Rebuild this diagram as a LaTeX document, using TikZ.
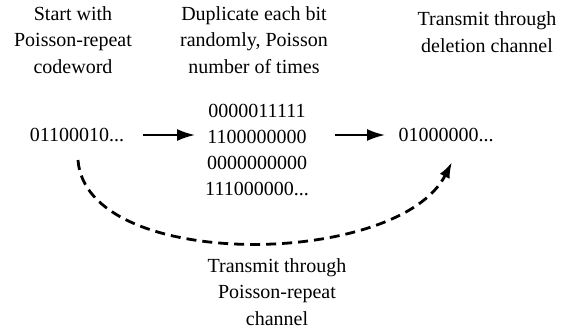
\documentclass[tikz,border=0pt]{standalone}
\usepackage{fontspec}
\setmainfont{Liberation Serif}
\usetikzlibrary{arrows.meta}
\begin{document}
\begin{tikzpicture}[
    x=0.5pt, y=-0.5pt,
    every node/.style={font=\fontsize{10pt}{13.2pt}\selectfont, inner sep=0pt},
    caption/.style={align=center},
    word/.style={anchor=center},
    step arrow/.style={draw, line width=1pt, -{Latex[length=9pt,width=6pt]}},
    channel arrow/.style={draw, line width=1.4pt, dashed, dash pattern=on 5pt off 3pt,
        -{Latex[length=8pt,width=5.5pt]}}
]
\useasboundingbox (0,0) rectangle (561,334);
% captions on top
\node[caption] (start) at (73,40) {Start with\\Poisson-repeat\\codeword};
\node[caption] (dup) at (254,40) {Duplicate each bit\\randomly, Poisson\\number of times};
\node[caption] (del) at (487,32) {Transmit through\\deletion channel};
% codewords
\node[word] (cw) at (77,135) {01100010...};
\node[word, align=center, font=\fontsize{10pt}{12.9pt}\selectfont] (bits) at (257,150)
    {0000011111\\1100000000\\0000000000\\111000000...};
\node[word] (out) at (446,135) {01000000...};
% steps
\coordinate (a1) at (143,135);
\coordinate (b1) at (195,135);
\coordinate (a2) at (335,135);
\coordinate (b2) at (385,135);
\draw[step arrow] (a1) -- (b1);
\draw[step arrow] (a2) -- (b2);
% direct channel
\coordinate (c1) at (78,160);
\coordinate (c2) at (452,162);
\draw[channel arrow] (c1) .. controls (86,272) and (398,268) .. (c2);
\node[caption] (pr) at (277,292) {Transmit through\\Poisson-repeat\\channel};
\end{tikzpicture}
\end{document}
